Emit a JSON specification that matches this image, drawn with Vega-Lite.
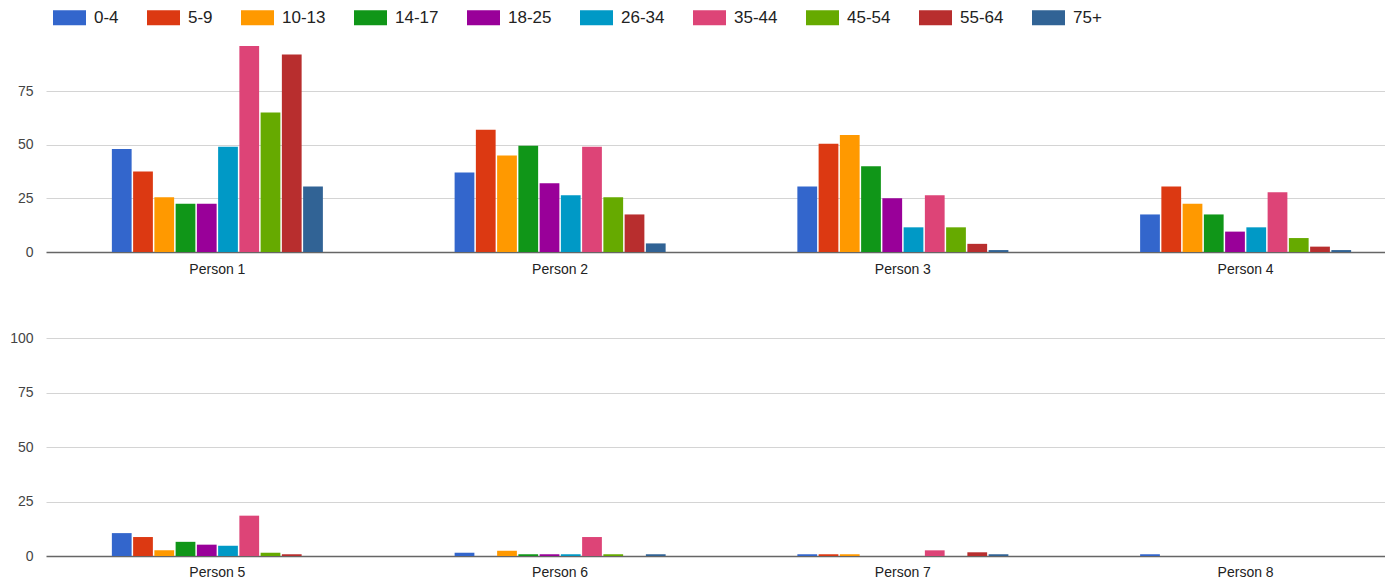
{
  "$schema": "https://vega.github.io/schema/vega-lite/v6.json",
  "padding": {"left": 9, "top": 1, "right": 0, "bottom": 0},
  "background": "white",
  "config": {
    "view": {"stroke": null},
    "concat": {"spacing": 55},
    "axis": {"labelFont": "Liberation Sans", "labelFontSize": 14, "labelColor": "#444"}
  },
  "data": {"values": [
    {"person": "Person 1", "age": "0-4", "value": 48},
    {"person": "Person 1", "age": "5-9", "value": 37.5},
    {"person": "Person 1", "age": "10-13", "value": 25.5},
    {"person": "Person 1", "age": "14-17", "value": 22.5},
    {"person": "Person 1", "age": "18-25", "value": 22.5},
    {"person": "Person 1", "age": "26-34", "value": 49},
    {"person": "Person 1", "age": "35-44", "value": 96},
    {"person": "Person 1", "age": "45-54", "value": 65},
    {"person": "Person 1", "age": "55-64", "value": 92},
    {"person": "Person 1", "age": "75+", "value": 30.5},
    {"person": "Person 2", "age": "0-4", "value": 37},
    {"person": "Person 2", "age": "5-9", "value": 57},
    {"person": "Person 2", "age": "10-13", "value": 45},
    {"person": "Person 2", "age": "14-17", "value": 49.5},
    {"person": "Person 2", "age": "18-25", "value": 32},
    {"person": "Person 2", "age": "26-34", "value": 26.5},
    {"person": "Person 2", "age": "35-44", "value": 49},
    {"person": "Person 2", "age": "45-54", "value": 25.5},
    {"person": "Person 2", "age": "55-64", "value": 17.5},
    {"person": "Person 2", "age": "75+", "value": 4},
    {"person": "Person 3", "age": "0-4", "value": 30.5},
    {"person": "Person 3", "age": "5-9", "value": 50.5},
    {"person": "Person 3", "age": "10-13", "value": 54.5},
    {"person": "Person 3", "age": "14-17", "value": 40},
    {"person": "Person 3", "age": "18-25", "value": 25},
    {"person": "Person 3", "age": "26-34", "value": 11.5},
    {"person": "Person 3", "age": "35-44", "value": 26.5},
    {"person": "Person 3", "age": "45-54", "value": 11.5},
    {"person": "Person 3", "age": "55-64", "value": 3.8},
    {"person": "Person 3", "age": "75+", "value": 0.9},
    {"person": "Person 4", "age": "0-4", "value": 17.5},
    {"person": "Person 4", "age": "5-9", "value": 30.5},
    {"person": "Person 4", "age": "10-13", "value": 22.5},
    {"person": "Person 4", "age": "14-17", "value": 17.5},
    {"person": "Person 4", "age": "18-25", "value": 9.5},
    {"person": "Person 4", "age": "26-34", "value": 11.5},
    {"person": "Person 4", "age": "35-44", "value": 27.8},
    {"person": "Person 4", "age": "45-54", "value": 6.5},
    {"person": "Person 4", "age": "55-64", "value": 2.5},
    {"person": "Person 4", "age": "75+", "value": 0.9},
    {"person": "Person 5", "age": "0-4", "value": 10.5},
    {"person": "Person 5", "age": "5-9", "value": 8.7},
    {"person": "Person 5", "age": "10-13", "value": 2.6},
    {"person": "Person 5", "age": "14-17", "value": 6.5},
    {"person": "Person 5", "age": "18-25", "value": 5.2},
    {"person": "Person 5", "age": "26-34", "value": 4.7},
    {"person": "Person 5", "age": "35-44", "value": 18.5},
    {"person": "Person 5", "age": "45-54", "value": 1.5},
    {"person": "Person 5", "age": "55-64", "value": 0.8},
    {"person": "Person 5", "age": "75+", "value": 0},
    {"person": "Person 6", "age": "0-4", "value": 1.5},
    {"person": "Person 6", "age": "5-9", "value": 0},
    {"person": "Person 6", "age": "10-13", "value": 2.4},
    {"person": "Person 6", "age": "14-17", "value": 0.8},
    {"person": "Person 6", "age": "18-25", "value": 0.8},
    {"person": "Person 6", "age": "26-34", "value": 0.8},
    {"person": "Person 6", "age": "35-44", "value": 8.7},
    {"person": "Person 6", "age": "45-54", "value": 0.8},
    {"person": "Person 6", "age": "55-64", "value": 0},
    {"person": "Person 6", "age": "75+", "value": 0.8},
    {"person": "Person 7", "age": "0-4", "value": 0.8},
    {"person": "Person 7", "age": "5-9", "value": 0.8},
    {"person": "Person 7", "age": "10-13", "value": 0.8},
    {"person": "Person 7", "age": "14-17", "value": 0},
    {"person": "Person 7", "age": "18-25", "value": 0},
    {"person": "Person 7", "age": "26-34", "value": 0},
    {"person": "Person 7", "age": "35-44", "value": 2.6},
    {"person": "Person 7", "age": "45-54", "value": 0},
    {"person": "Person 7", "age": "55-64", "value": 1.7},
    {"person": "Person 7", "age": "75+", "value": 0.8},
    {"person": "Person 8", "age": "0-4", "value": 0.8},
    {"person": "Person 8", "age": "5-9", "value": 0},
    {"person": "Person 8", "age": "10-13", "value": 0},
    {"person": "Person 8", "age": "14-17", "value": 0},
    {"person": "Person 8", "age": "18-25", "value": 0},
    {"person": "Person 8", "age": "26-34", "value": 0},
    {"person": "Person 8", "age": "35-44", "value": 0},
    {"person": "Person 8", "age": "45-54", "value": 0},
    {"person": "Person 8", "age": "55-64", "value": 0},
    {"person": "Person 8", "age": "75+", "value": 0}
  ]},
  "vconcat": [
    {
      "width": 1339,
      "height": 206,
      "transform": [
        {"filter": {"field": "person", "oneOf": ["Person 1", "Person 2", "Person 3", "Person 4"]}},
        {"filter": "datum.value > 0"}
      ],
      "mark": {"type": "bar"},
      "encoding": {
        "x": {"field": "person", "type": "nominal", "sort": null,
          "scale": {"range": [0, 1371], "paddingInner": 0.38, "paddingOuter": 0.19},
          "axis": {"title": null, "domain": false, "ticks": false, "labelAngle": 0, "labelPadding": 10, "labelColor": "#222", "grid": false}},
        "xOffset": {"field": "age", "type": "nominal",
          "scale": {"domain": ["0-4", "5-9", "10-13", "14-17", "18-25", "26-34", "35-44", "45-54", "55-64", "75+"], "paddingInner": 0.07, "paddingOuter": 0.035}},
        "y": {"field": "value", "type": "quantitative",
          "scale": {"domain": [0, 96], "nice": false},
          "axis": {"title": null, "domain": false, "ticks": false, "labelPadding": 13, "values": [0, 25, 50, 75],
            "grid": true, "gridColor": {"condition": {"test": "datum.value === 0", "value": "#666"}, "value": "#d4d4d4"},
            "gridWidth": {"condition": {"test": "datum.value === 0", "value": 1.5}, "value": 1}}},
        "color": {"field": "age", "type": "nominal",
          "scale": {"domain": ["0-4", "5-9", "10-13", "14-17", "18-25", "26-34", "35-44", "45-54", "55-64", "75+"],
            "range": ["#3366cc", "#dc3912", "#ff9900", "#109618", "#990099", "#0099c6", "#dd4477", "#66aa00", "#b82e2e", "#316395"]},
          "legend": {"title": null, "orient": "none", "legendX": 7, "legendY": -45, "direction": "horizontal", "columns": 10,
            "symbolType": "M-1,-0.4545H1V0.4545H-1Z", "symbolSize": 1089, "symbolStrokeWidth": 0, "symbolOpacity": 1,
            "labelFont": "Liberation Sans", "labelFontSize": 17, "labelColor": "#222", "labelOffset": 8, "columnPadding": 28}}
      }
    },
    {
      "width": 1339,
      "height": 218,
      "transform": [
        {"filter": {"field": "person", "oneOf": ["Person 5", "Person 6", "Person 7", "Person 8"]}},
        {"filter": "datum.value > 0"}
      ],
      "mark": {"type": "bar"},
      "encoding": {
        "x": {"field": "person", "type": "nominal", "sort": null,
          "scale": {"domain": ["Person 5", "Person 6", "Person 7", "Person 8"], "range": [0, 1371], "paddingInner": 0.38, "paddingOuter": 0.19},
          "axis": {"title": null, "domain": false, "ticks": false, "labelAngle": 0, "labelPadding": 9, "labelColor": "#222", "grid": false}},
        "xOffset": {"field": "age", "type": "nominal",
          "scale": {"domain": ["0-4", "5-9", "10-13", "14-17", "18-25", "26-34", "35-44", "45-54", "55-64", "75+"], "paddingInner": 0.07, "paddingOuter": 0.035}},
        "y": {"field": "value", "type": "quantitative",
          "scale": {"domain": [0, 100], "nice": false},
          "axis": {"title": null, "domain": false, "ticks": false, "labelPadding": 13, "values": [0, 25, 50, 75, 100],
            "grid": true, "gridColor": {"condition": {"test": "datum.value === 0", "value": "#666"}, "value": "#d4d4d4"},
            "gridWidth": {"condition": {"test": "datum.value === 0", "value": 1.5}, "value": 1}}},
        "color": {"field": "age", "type": "nominal",
          "scale": {"domain": ["0-4", "5-9", "10-13", "14-17", "18-25", "26-34", "35-44", "45-54", "55-64", "75+"],
            "range": ["#3366cc", "#dc3912", "#ff9900", "#109618", "#990099", "#0099c6", "#dd4477", "#66aa00", "#b82e2e", "#316395"]},
          "legend": {"title": null, "orient": "none", "legendX": 7, "legendY": -45, "direction": "horizontal", "columns": 10,
            "symbolType": "M-1,-0.4545H1V0.4545H-1Z", "symbolSize": 1089, "symbolStrokeWidth": 0, "symbolOpacity": 1,
            "labelFont": "Liberation Sans", "labelFontSize": 17, "labelColor": "#222", "labelOffset": 8, "columnPadding": 28}}
      }
    }
  ]
}
